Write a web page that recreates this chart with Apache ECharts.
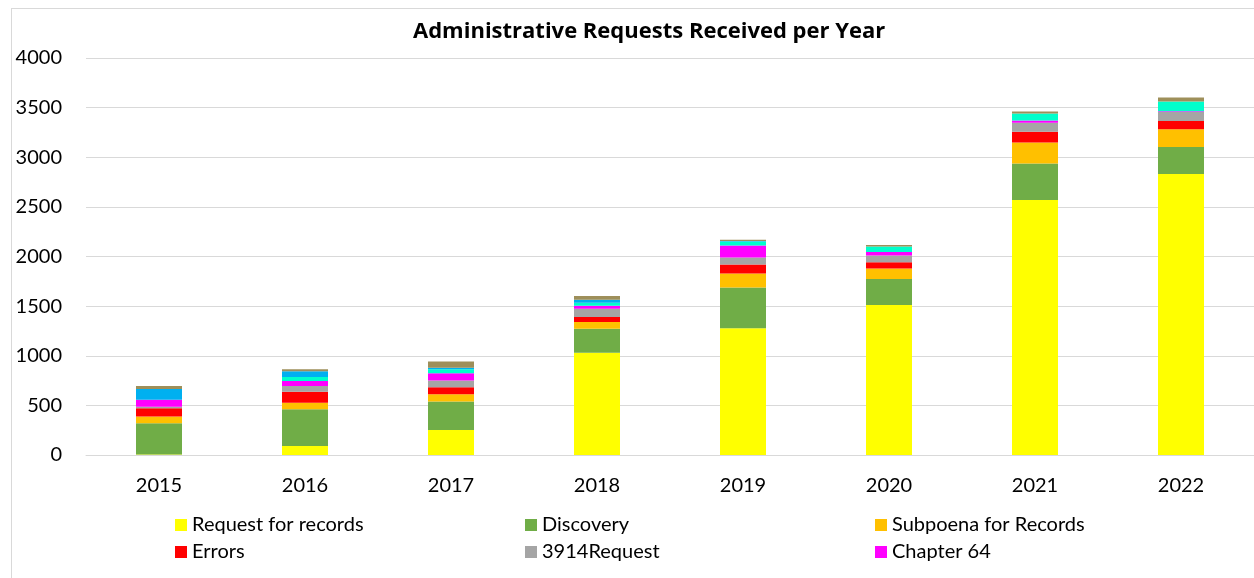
<!DOCTYPE html>
<html><head><meta charset="utf-8">
<script src="https://cdn.jsdelivr.net/npm/echarts@6/dist/echarts.min.js"></script>
<style>
html,body{margin:0;padding:0;background:#fff;overflow:hidden}
#c{width:1254px;height:578px;position:absolute;left:0;top:0}
#b{position:absolute;left:11px;top:8px;width:1300px;height:640px;border:1px solid #d9d9d9;pointer-events:none}
</style></head>
<body>
<div id="c"></div><div id="b"></div>
<script>
const years = ['2015','2016','2017','2018','2019','2020','2021','2022'];
const requestForRecords = [5, 90, 252, 1031, 1277, 1512, 2570, 2832];
const discovery        = [315, 370, 286, 242, 410, 262, 366, 272];
const subpoena         = [67, 67, 74, 67, 141, 104, 212, 178];
const errors           = [84, 111, 71, 50, 91, 64, 108, 84];
const req3914          = [15, 57, 67, 84, 71, 67, 91, 91];
const chapter64        = [70, 50, 74, 30, 121, 37, 23, 7];
const otherCyan        = [0, 40, 40, 30, 40, 54, 71, 97];
const otherBlue        = [110, 60, 15, 30, 5, 0, 0, 0];
const otherOlive       = [30, 20, 64, 37, 13, 17, 20, 40];
const yTicks = {min: 0, max: 4000, interval: 500};

const seriesDefs = [
  ['Request for records', requestForRecords, '#FFFF00'],
  ['Discovery', discovery, '#70AD47'],
  ['Subpoena for Records', subpoena, '#FFC000'],
  ['Errors', errors, '#FF0000'],
  ['3914Request', req3914, '#A5A5A5'],
  ['Chapter 64', chapter64, '#FF00FF'],
  ['Other A', otherCyan, '#00FFCC'],
  ['Other B', otherBlue, '#00B0F0'],
  ['Other C', otherOlive, '#9E8F5A']
];
const font = 'Lato, "Open Sans", sans-serif';
const legendBase = {orient:'vertical', top: 515, height: 60, padding: 0, itemWidth: 12, itemHeight: 12, itemGap: 7,
  textStyle:{fontFamily:font, fontSize:20, lineHeight:20, color:'#000'}, icon:'rect', selectedMode:false};
const chart = echarts.init(document.getElementById('c'));
chart.setOption({
  animation:false,
  title:{text:'Administrative Requests Received per Year', left: 408, top: 16,
    textStyle:{fontFamily:'"Open Sans", Lato, sans-serif', fontSize:22, fontWeight:'bold', color:'#000'}},
  legend:[
    Object.assign({}, legendBase, {left: 175, data:['Request for records','Errors']}),
    Object.assign({}, legendBase, {left: 525, data:['Discovery','3914Request']}),
    Object.assign({}, legendBase, {left: 875, data:['Subpoena for Records','Chapter 64']})
  ],
  grid:{left: 86, top: 58, width: 1173, height: 397},
  xAxis:{type:'category', data: years,
    axisLine:{lineStyle:{color:'#d9d9d9', width:1}}, axisTick:{show:false},
    axisLabel:{fontFamily:font, fontSize:20, color:'#000', margin:21}},
  yAxis:{type:'value', min:yTicks.min, max:yTicks.max, interval:yTicks.interval,
    axisLine:{show:false}, axisTick:{show:false},
    splitLine:{lineStyle:{color:'#d9d9d9', width:1}},
    axisLabel:{fontFamily:font, fontSize:20, color:'#000', margin:24, formatter: v => String(v)}},
  series: seriesDefs.map(([name, data, color]) => ({
    name, type:'bar', stack:'total', data, barWidth: 46,
    itemStyle:{color}, emphasis:{disabled:true}
  }))
});
</script>
</body></html>
